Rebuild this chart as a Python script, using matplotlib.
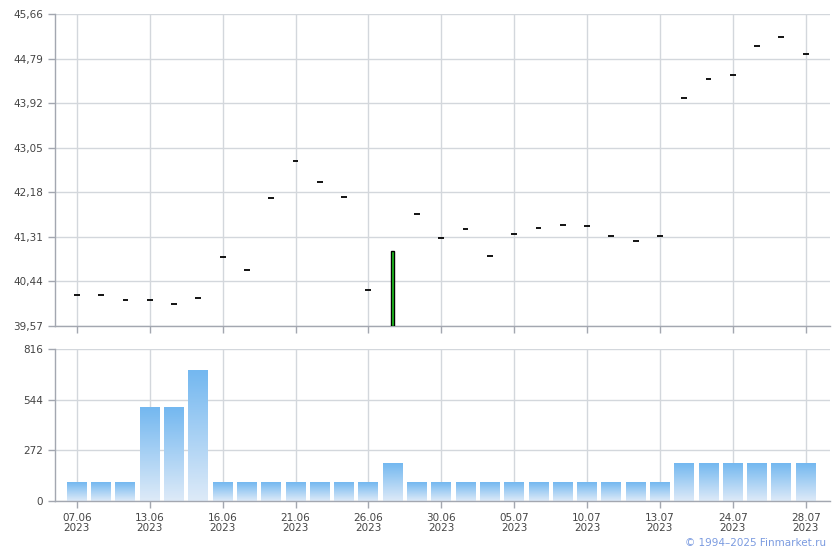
import matplotlib
matplotlib.use("Agg")
import matplotlib.pyplot as plt
import numpy as np

dates = ["07.06", "08.06", "09.06", "13.06", "14.06", "15.06", "16.06", "19.06",
         "20.06", "21.06", "22.06", "23.06", "26.06", "27.06", "29.06", "30.06",
         "03.07", "04.07", "05.07", "06.07", "07.07", "10.07", "11.07", "12.07",
         "13.07", "20.07", "21.07", "24.07", "25.07", "26.07", "28.07"]
year = "2023"
close = [40.175, 40.175, 40.08, 40.08, 40.00, 40.12, 40.915, 40.66,
         42.07, 42.785, 42.39, 42.08, 40.27, 41.03, 41.75, 41.28,
         41.46, 40.93, 41.36, 41.48, 41.535, 41.515, 41.32, 41.22,
         41.32, 44.03, 44.40, 44.46, 45.03, 45.205, 44.87]
open_ = list(close)
open_[13] = 39.57
volume = [100, 100, 100, 500, 500, 700, 100, 100, 100, 100, 100, 100, 100, 200,
          100, 100, 100, 100, 100, 100, 100, 100, 100, 100, 100, 200, 200, 200,
          200, 200, 200]
tick_idx = [0, 3, 6, 9, 12, 15, 18, 21, 24, 27, 30]
price_ticks = [39.57, 40.44, 41.31, 42.18, 43.05, 43.92, 44.79, 45.66]
vol_ticks = [0, 272, 544, 816]

grid_c = "#d3d7dc"
spine_c = "#a3a7b0"
text_c = "#444444"

fig = plt.figure(figsize=(8.4, 5.5), dpi=100)
ax1 = fig.add_axes([55/840, 1-326/550, 775/840, 312/550])
ax2 = fig.add_axes([55/840, 1-501/550, 775/840, 152/550])

x = np.arange(len(dates))
xlim = (-0.9, 31.0)

for ax in (ax1, ax2):
    ax.set_xlim(*xlim)
    for s in ("top", "right"):
        ax.spines[s].set_visible(False)
    for s in ("left", "bottom"):
        ax.spines[s].set_color(spine_c)
        ax.spines[s].set_linewidth(1.0)
    ax.grid(True, color=grid_c, linewidth=1.0)
    ax.set_axisbelow(True)
    ax.tick_params(axis="both", colors=spine_c, labelcolor=text_c, labelsize=7.5,
                   length=5, width=1.0)
    ax.set_xticks(tick_idx)

# price panel
ax1.set_ylim(price_ticks[0], price_ticks[-1])
ax1.set_yticks(price_ticks)
ax1.set_yticklabels([f"{v:.2f}".replace(".", ",") for v in price_ticks])
ax1.set_xticklabels([])
for i in x:
    o, c = open_[i], close[i]
    if abs(c - o) < 1e-9:
        ax1.hlines(c, i - 0.12, i + 0.12, color="black", linewidth=1.3, zorder=3)
    else:
        lo, hi = min(o, c), max(o, c)
        col = "#22cc22" if c > o else "#dd2222"
        ax1.bar(i, hi - lo, bottom=lo, width=0.14, color=col, edgecolor="black",
                linewidth=1.0, zorder=3)

# volume panel with gradient bars
ax2.set_ylim(0, vol_ticks[-1])
ax2.set_yticks(vol_ticks)
ax2.set_xticklabels([f"{dates[i]}\n{year}" for i in tick_idx], linespacing=1.0)
top_col = np.array([0x74, 0xb8, 0xf0]) / 255
bot_col = np.array([0xdd, 0xea, 0xf8]) / 255
w = 0.82
for i in x:
    h = volume[i]
    frac = np.linspace(1, 0, 64)[:, None]
    img = (bot_col[None, :] * (1 - frac) + top_col[None, :] * frac)[:, None, :]
    ax2.imshow(img, extent=[i - w/2, i + w/2, 0, h], aspect="auto",
               origin="upper", zorder=2, interpolation="bilinear")
ax2.set_xlim(*xlim)
ax2.set_ylim(0, vol_ticks[-1])

fig.text(826/840, 1-543/550, "© 1994–2025 Finmarket.ru", ha="right", va="center",
         fontsize=7.5, color="#7b9be0")

fig.savefig("out.png", dpi=100)
